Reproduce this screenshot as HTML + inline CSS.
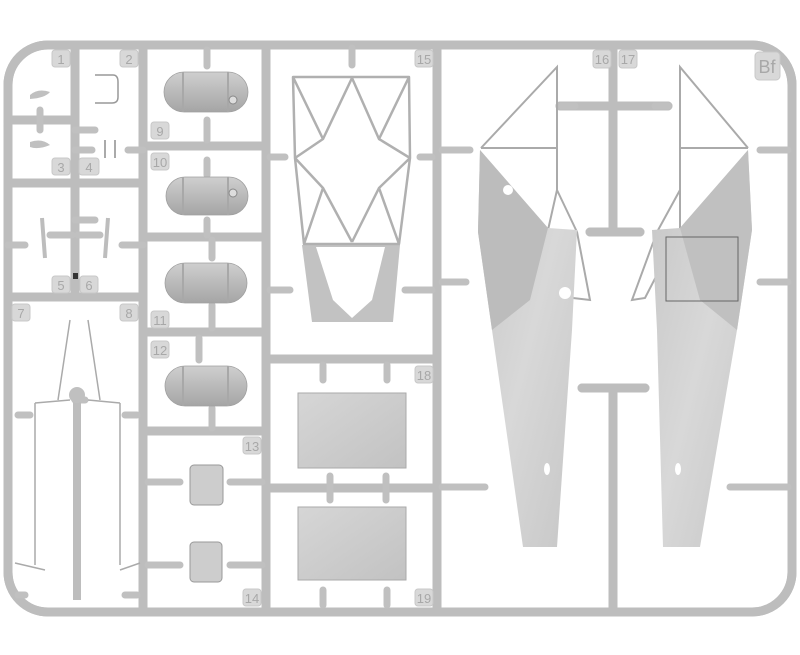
<!DOCTYPE html>
<html><head><meta charset="utf-8"><style>html,body{margin:0;padding:0;background:#fff}svg{display:block}</style></head>
<body>
<svg width="800" height="655" viewBox="0 0 800 655" xmlns="http://www.w3.org/2000/svg">
<defs>
<linearGradient id="tank" x1="0" y1="0" x2="0" y2="1"><stop offset="0" stop-color="#cfcfcf"/><stop offset="0.4" stop-color="#bebebe"/><stop offset="1" stop-color="#a5a5a5"/></linearGradient>
<linearGradient id="box" x1="0" y1="0" x2="1" y2="1"><stop offset="0" stop-color="#d6d6d6"/><stop offset="1" stop-color="#c2c2c2"/></linearGradient>
<linearGradient id="fus" x1="0" y1="0" x2="1" y2="1"><stop offset="0" stop-color="#c6c6c6"/><stop offset="0.5" stop-color="#d8d8d8"/><stop offset="1" stop-color="#c6c6c6"/></linearGradient>
</defs>
<g fill="none" stroke-linecap="round">
<path id="r" d="M8,85 A40,40 0 0 1 48,45 L752,45 A40,40 0 0 1 792,85 L792,572 A40,40 0 0 1 752,612 L48,612 A40,40 0 0 1 8,572 Z
M75,45 V297 M143,45 V612 M266,45 V612 M437,45 V612
M8,120 H75 M8,183 H143 M8,297 H143
M143,146 H266 M143,237 H266 M143,332 H266 M143,431 H266 M266,359 H437
M266,488 H437
M613,45 V232 M590,232 H640 M560,106 H668 M613,388 V612 M582,388 H645" stroke="#bdbdbd" stroke-width="9"/>
<use href="#r" stroke="#dcdcdc" stroke-width="3"/>
</g>
<g stroke="#c0c0c0" stroke-width="7" stroke-linecap="round" fill="none">
<path d="M75,130 H95 M75,220 H95 M75,150 H92 M128,150 H143 M40,110 V130
M50,235 H72 M78,235 H100 M8,245 H25 M122,245 H143 M207,50 V66 M207,120 V140 M207,160 V175 M207,220 V235 M212,240 V258 M212,305 V328 M199,338 V360 M212,408 V428
M148,482 H180 M230,482 H262 M148,565 H180 M230,565 H262 M18,415 H30 M125,415 H137 M75,400 H85 M18,595 H25 M125,595 H137
M352,48 V65 M270,157 H285 M420,157 H432 M270,290 H290 M405,290 H432
M323,365 V380 M387,365 V380 M323,590 V605 M387,590 V605 M330,488 V500 M386,488 V500 M330,476 V488 M386,476 V488
M442,150 H470 M442,282 H466 M442,487 H485 M760,150 H788 M760,282 H788 M730,487 H788
M562,106 H575 M655,106 H668"/>
</g>
<path d="M95,75 H113 Q118,75 118,82 V97 Q118,103 112,103 H95" fill="none" stroke="#999" stroke-width="1.5"/>
<path d="M105,140 V158 M115,140 V158" stroke="#aaa" stroke-width="2"/>
<path d="M30,95 Q38,88 50,92 Q45,98 30,99 Z M30,142 Q42,138 50,145 Q38,150 30,147Z" fill="#c0c0c0"/>
<path d="M42,218 L45,258 M108,218 L105,258" stroke="#bdbdbd" stroke-width="4"/>
<rect x="73" y="273" width="5" height="6" fill="#333"/>
<g fill="url(#tank)" stroke="#a0a0a0" stroke-width="0.8">
<rect x="164" y="72" width="84" height="40" rx="20"/>
<rect x="166" y="177" width="82" height="38" rx="19"/>
<rect x="165" y="263" width="82" height="40" rx="20"/>
<rect x="165" y="366" width="82" height="40" rx="20"/>
</g>
<g stroke="#a8a8a8" stroke-width="2"><path d="M183,72 V112 M228,72 V112 M183,177 V215 M228,177 V215 M183,263 V303 M228,263 V303 M183,366 V406 M228,366 V406"/></g>
<circle cx="233" cy="100" r="4" fill="#ddd" stroke="#888"/><circle cx="233" cy="193" r="4" fill="#ddd" stroke="#888"/>
<rect x="190" y="465" width="33" height="40" rx="4" fill="#cdcdcd" stroke="#999"/>
<rect x="190" y="542" width="32" height="40" rx="4" fill="#cdcdcd" stroke="#999"/>
<g stroke="#aaa" stroke-width="1.5" fill="none">
<path d="M70,320 L58,400 M88,320 L100,400 M35,403 V565 M120,403 V565 M35,403 L70,400 M120,403 L88,400 M15,563 L45,570 M140,563 L120,570"/>
</g>
<path d="M77,392 V600" stroke="#bdbdbd" stroke-width="8"/><circle cx="77" cy="395" r="8" fill="#c0c0c0"/>
<path d="M302,245 L400,245 L393,322 L312,322 Z" fill="#c2c2c2"/>
<path d="M316,247 L385,247 L372,300 L352,318 L333,300 Z" fill="#fff"/>
<g stroke="#b0b0b0" stroke-width="2.5" fill="none" stroke-linejoin="round">
<path d="M293,77 H409 L410,158 L399,244 H304 L295,158 Z M293,77 L323,139 L295,158 L323,188 L304,244 M352,78 L323,139 M352,78 L379,139 L410,158 L379,188 L399,244 M409,77 L379,139 M352,242 L323,188 M352,242 L379,188"/>
</g>
<rect x="298" y="393" width="108" height="75" fill="url(#box)" stroke="#aaa"/>
<rect x="298" y="507" width="108" height="73" fill="url(#box)" stroke="#aaa"/>
<g stroke="#aaa" stroke-width="2" fill="none">
<path d="M481,148 L557,67 V190 L548,230 M481,148 H557 M557,190 L577,232 M548,230 L573,298 M577,232 L590,300 L573,298"/>
<path d="M748,148 L680,67 V190 L680,230 M748,148 H680 M680,190 L657,232 M680,230 L645,298 L632,300 L657,232"/>
</g>
<polygon points="480,150 548,228 577,230 572,330 557,547 523,547 492,330 478,232" fill="url(#fus)"/>
<polygon points="652,230 680,228 748,150 752,230 737,330 700,547 663,547 657,330" fill="url(#fus)"/>
<polygon points="480,150 548,228 530,300 492,330 478,232" fill="#bcbcbc"/>
<polygon points="748,150 752,230 737,330 700,300 680,228" fill="#c0c0c0"/>
<rect x="666" y="237" width="72" height="64" fill="none" stroke="#666" stroke-width="1"/>
<circle cx="508" cy="190" r="5" fill="#fff"/><circle cx="565" cy="293" r="6" fill="#fff"/>
<ellipse cx="547" cy="469" rx="3" ry="6" fill="#fff"/><ellipse cx="678" cy="469" rx="3" ry="6" fill="#fff"/>
<g fill="#d8d8d8" stroke="#c8c8c8" stroke-width="1">
<rect x="52" y="50" width="18" height="17" rx="3"/><rect x="120" y="50" width="18" height="17" rx="3"/>
<rect x="52" y="158" width="18" height="17" rx="3"/><rect x="79" y="158" width="20" height="17" rx="3"/>
<rect x="151" y="122" width="18" height="17" rx="3"/><rect x="151" y="153" width="18" height="17" rx="3"/>
<rect x="52" y="276" width="18" height="17" rx="3"/><rect x="80" y="276" width="18" height="17" rx="3"/>
<rect x="12" y="304" width="18" height="17" rx="3"/><rect x="120" y="304" width="18" height="17" rx="3"/>
<rect x="151" y="311" width="18" height="17" rx="3"/><rect x="151" y="341" width="18" height="17" rx="3"/>
<rect x="243" y="437" width="18" height="17" rx="3"/><rect x="243" y="589" width="18" height="17" rx="3"/>
<rect x="415" y="50" width="18" height="17" rx="3"/><rect x="415" y="366" width="18" height="17" rx="3"/>
<rect x="415" y="589" width="18" height="17" rx="3"/>
<rect x="593" y="50" width="18" height="18" rx="3"/><rect x="619" y="50" width="18" height="18" rx="3"/>
<rect x="755" y="52" width="25" height="28" rx="4"/>
</g>
<g font-family="Liberation Sans, sans-serif" font-size="13" fill="#a8a8a8" text-anchor="middle">
<text x="61" y="64">1</text><text x="129" y="64">2</text><text x="61" y="172">3</text><text x="89" y="172">4</text>
<text x="160" y="136">9</text><text x="160" y="167">10</text><text x="61" y="290">5</text><text x="89" y="290">6</text>
<text x="21" y="318">7</text><text x="129" y="318">8</text><text x="160" y="325">11</text><text x="160" y="355">12</text>
<text x="252" y="451">13</text><text x="252" y="603">14</text><text x="424" y="64">15</text><text x="424" y="380">18</text>
<text x="424" y="603">19</text><text x="602" y="64">16</text><text x="628" y="64">17</text>
<text x="767" y="73" font-size="18">Bf</text>
</g>
</svg>
</body></html>
